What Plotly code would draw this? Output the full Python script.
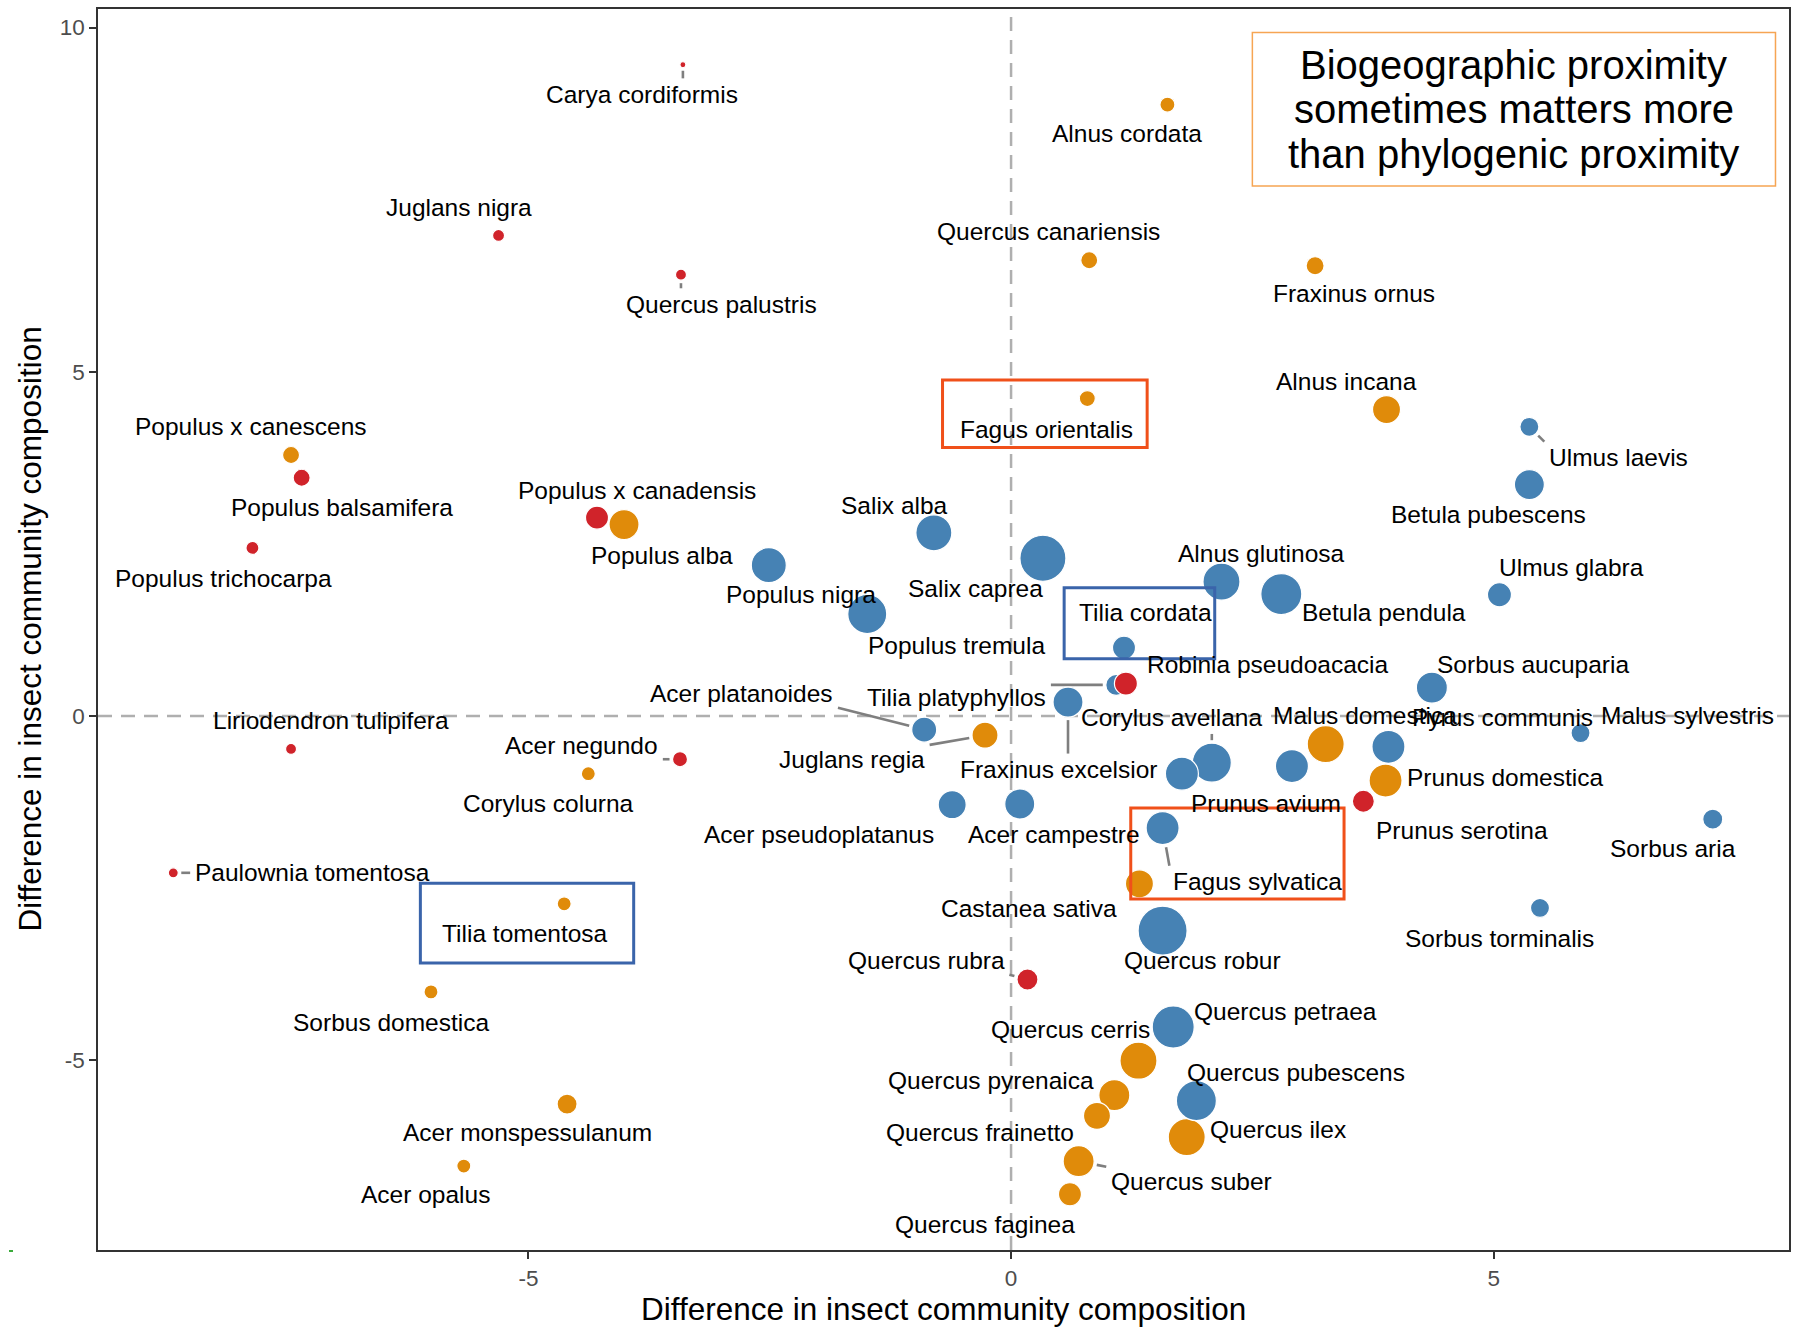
import plotly.graph_objects as go

# ---------------- data ----------------
species = [
    "Carya cordiformis", "Alnus cordata", "Juglans nigra", "Quercus canariensis",
    "Quercus palustris", "Fraxinus ornus", "Alnus incana", "Fagus orientalis",
    "Populus x canescens", "Ulmus laevis", "Populus balsamifera", "Populus x canadensis",
    "Salix alba", "Betula pubescens", "Populus alba", "Populus trichocarpa",
    "Alnus glutinosa", "Ulmus glabra", "Populus nigra", "Salix caprea",
    "Betula pendula", "Tilia cordata", "Populus tremula", "Tilia platyphyllos",
    "Robinia pseudoacacia", "Sorbus aucuparia", "Acer platanoides", "Liriodendron tulipifera",
    "Corylus avellana", "", "Prunus avium", "Malus domestica", "Pyrus communis",
    "Malus sylvestris", "Acer negundo", "Juglans regia", "Fraxinus excelsior",
    "Corylus colurna", "Prunus domestica", "Acer pseudoplatanus", "Acer campestre",
    "Prunus serotina", "Sorbus aria", "Paulownia tomentosa", "Fagus sylvatica",
    "Castanea sativa", "Tilia tomentosa", "Sorbus torminalis", "Quercus rubra",
    "Quercus robur", "Sorbus domestica", "Quercus petraea", "Quercus cerris",
    "Quercus pyrenaica", "Quercus ilex", "Quercus pubescens", "Acer monspessulanum",
    "Quercus frainetto", "Acer opalus", "Quercus suber", "Quercus faginea",
]

dim_x = [
    -3.40, 1.62, -5.31, 0.81,
    -3.42, 3.15, 3.89, 0.79,
    -7.46, 5.37, -7.35, -4.29,
    -0.80, 5.37, -4.01, -7.86,
    2.18, 5.06, -2.51, 0.33,
    2.80, 1.17, -1.49, 1.09,
    1.19, 4.36, -0.90, -7.46,
    2.08, 1.77, 2.91, 3.26, 3.91,
    5.90, -3.43, -0.27, 0.59,
    -4.38, 3.88, -0.61, 0.09,
    3.65, 7.27, -8.68, 1.57,
    1.33, -4.63, 5.48, 0.17,
    1.57, -6.01, 1.68, 1.32,
    1.07, 1.82, 1.92, -4.60,
    0.89, -5.67, 0.70, 0.61,
]

dim_y = [
    9.46, 8.88, 6.98, 6.62,
    6.41, 6.54, 4.45, 4.61,
    3.79, 4.20, 3.46, 2.88,
    2.66, 3.36, 2.78, 2.44,
    1.95, 1.76, 2.19, 2.29,
    1.77, 0.99, 1.48, 0.45,
    0.47, 0.41, -0.20, -0.48,
    -0.68, -0.84, -0.73, -0.41, -0.45,
    -0.25, -0.63, -0.28, 0.20,
    -0.84, -0.94, -1.29, -1.28,
    -1.24, -1.50, -2.28, -1.63,
    -2.44, -2.73, -2.79, -3.83,
    -3.12, -4.01, -4.52, -5.01,
    -5.51, -6.12, -5.59, -5.64,
    -5.81, -6.54, -6.47, -6.95,
]

# point size variable (mapped linearly to marker diameter)
size_value = [
    6, 15, 12, 17,
    11, 18, 28, 16,
    17, 19, 17, 23,
    36, 30, 30, 13,
    37, 24, 35, 46,
    41, 23, 39, 21,
    23, 31, 25, 11,
    39, 33, 33, 37, 33,
    19, 15, 26, 30,
    14, 33, 28, 30,
    22, 20, 10, 33,
    28, 14, 19, 21,
    49, 14, 42, 37,
    31, 37, 40, 20,
    27, 14, 31, 23,
]

N, E, X = "Native", "European non-native", "Exotic"
origin = [
    X, E, X, E,
    X, E, E, E,
    E, N, X, X,
    N, N, E, X,
    N, N, N, N,
    N, N, N, N,
    X, N, N, X,
    N, N, N, E, N,
    N, X, E, N,
    E, E, N, N,
    X, N, X, N,
    E, E, N, X,
    N, E, N, E,
    E, E, N, E,
    E, E, E, E,
]

# repelled label positions (data units)
label_x = [
    -3.82, 1.20, -5.72, 0.39,
    -3.00, 3.55, 3.48, 0.37,
    -7.87, 6.29, -6.93, -3.88,
    -1.21, 4.95, -3.62, -8.16,
    2.59, 5.81, -2.18, -0.37,
    3.86, 1.39, -0.57, -0.57,
    2.66, 5.41, -2.79, -7.05,
    1.66, None, 2.64, 3.67, 5.09,
    7.01, -4.45, -1.65, 0.49,
    -4.79, 5.12, -1.99, 0.44,
    4.67, 6.86, -7.24, 2.55,
    0.19, -5.04, 5.06, -0.88,
    1.98, -6.42, 2.84, 0.62,
    -0.21, 2.77, 2.95, -5.01,
    -0.32, -6.07, 1.87, -0.27,
]
label_y = [
    9.03, 8.46, 7.39, 7.04,
    5.98, 6.13, 4.86, 4.16,
    4.21, 3.76, 3.03, 3.28,
    3.06, 2.93, 2.33, 2.00,
    2.36, 2.16, 1.77, 1.85,
    1.50, 1.50, 1.02, 0.27,
    0.75, 0.75, 0.33, -0.07,
    -0.03, None, -1.28, 0.00, -0.03,
    0.00, -0.43, -0.63, -0.78,
    -1.27, -0.90, -1.72, -1.72,
    -1.67, -1.93, -2.28, -2.41,
    -2.80, -3.16, -3.23, -3.55,
    -3.55, -4.45, -4.30, -4.55,
    -5.30, -6.01, -5.18, -6.06,
    -6.05, -6.96, -6.76, -7.39,
]

highlight_names = ["Fagus orientalis", "Tilia cordata", "Fagus sylvatica", "Tilia tomentosa"]
highlight_x0 = [-0.71, 0.55, 1.24, -6.12]
highlight_x1 = [1.41, 2.11, 3.45, -3.91]
highlight_y0 = [3.90, 0.83, -2.66, -3.59]
highlight_y1 = [4.88, 1.86, -1.34, -2.43]
highlight_kind = ["Biogeography", "Phylogeny", "Biogeography", "Phylogeny"]

note_lines = ["Biogeographic proximity", "sometimes matters more", "than phylogenic proximity"]

x_ticks = [-5, 0, 5]
y_ticks = [-5, 0, 5, 10]
axis_title = "Difference in insect community composition"

# ---------------- styling / layout ----------------
W, H = 1796, 1329
ML, MR, MT, MB = 98, 7, 9, 79
XR = [-9.46, 8.06]
YR = [-7.76, 10.27]
PW, PH = W - ML - MR, H - MT - MB

colors = {N: "#4682B4", E: "#E08B0A", X: "#D0232A"}
box_colors = {"Biogeography": "#F0501A", "Phylogeny": "#3A64AA"}
FS = 24.5
FONT = "Liberation Sans, Arial, Helvetica, sans-serif"


def to_px(x, y):
    return (ML + (x - XR[0]) / (XR[1] - XR[0]) * PW,
            MT + (YR[1] - y) / (YR[1] - YR[0]) * PH)


def to_data(px, py):
    return (XR[0] + (px - ML) / PW * (XR[1] - XR[0]),
            YR[1] - (py - MT) / PH * (YR[1] - YR[0]))


CW = {'a': 556, 'b': 556, 'c': 500, 'd': 556, 'e': 556, 'f': 278, 'g': 556, 'h': 556,
      'i': 222, 'j': 222, 'k': 500, 'l': 222, 'm': 833, 'n': 556, 'o': 556, 'p': 556,
      'q': 556, 'r': 333, 's': 500, 't': 278, 'u': 556, 'v': 500, 'w': 722, 'x': 500,
      'y': 500, 'z': 500, ' ': 278, 'A': 667, 'B': 667, 'C': 722, 'F': 611, 'J': 500,
      'L': 556, 'M': 833, 'P': 667, 'Q': 778, 'R': 722, 'S': 667, 'T': 611, 'U': 722}


def text_w(s):
    return sum(CW.get(c, 600) for c in s) / 1000.0 * FS


fig = go.Figure()

# reference lines
fig.add_shape(type="line", x0=0, x1=0, y0=YR[0], y1=YR[1], xref="x", yref="y",
              line=dict(color="#AFAFAF", width=2.5, dash="14px,9px"), layer="below")
fig.add_shape(type="line", x0=XR[0], x1=XR[1], y0=0, y1=0, xref="x", yref="y",
              line=dict(color="#AFAFAF", width=2.5, dash="14px,9px"), layer="below")

# leader segments
seg_x, seg_y = [], []
for i, name in enumerate(species):
    if not name or label_x[i] is None:
        continue
    ppx, ppy = to_px(dim_x[i], dim_y[i])
    lpx, lpy = to_px(label_x[i], label_y[i])
    hw = text_w(name) / 2 + 3
    hh = 14
    bx = min(max(ppx, lpx - hw), lpx + hw)
    by = min(max(ppy, lpy - hh), lpy + hh)
    dx, dy = ppx - bx, ppy - by
    d = (dx * dx + dy * dy) ** 0.5
    r = size_value[i] / 2 + 3
    if d - r < 7:
        continue
    ex, ey = ppx - dx / d * r, ppy - dy / d * r
    sx, sy = bx + dx / d * 2, by + dy / d * 2
    a = to_data(sx, sy)
    b = to_data(ex, ey)
    seg_x += [a[0], b[0], None]
    seg_y += [a[1], b[1], None]

fig.add_trace(go.Scatter(x=seg_x, y=seg_y, mode="lines", hoverinfo="skip",
                         line=dict(color="#7F7F7F", width=2.6), showlegend=False))

# points
fig.add_trace(go.Scatter(
    x=dim_x, y=dim_y, mode="markers", text=species, showlegend=False,
    marker=dict(size=size_value, sizemode="diameter",
                color=[colors[g] for g in origin],
                line=dict(color="white", width=1.2), opacity=1),
))

annotations = []
for i, name in enumerate(species):
    if not name or label_x[i] is None:
        continue
    annotations.append(dict(x=label_x[i], y=label_y[i], xref="x", yref="y", text=name,
                            showarrow=False, xanchor="center", yanchor="middle",
                            font=dict(size=FS, color="black", family=FONT)))

# highlight boxes
for i in range(len(highlight_names)):
    fig.add_shape(type="rect", x0=highlight_x0[i], x1=highlight_x1[i],
                  y0=highlight_y0[i], y1=highlight_y1[i], xref="x", yref="y",
                  line=dict(color=box_colors[highlight_kind[i]], width=3), layer="above")

# note box
fig.add_shape(type="rect", x0=2.50, x1=7.92, y0=7.70, y1=9.93, xref="x", yref="y",
              line=dict(color="#F6A553", width=1.5), fillcolor="white", layer="above")
for j, (t, yy) in enumerate(zip(note_lines, [9.45, 8.81, 8.17])):
    annotations.append(dict(x=5.21, y=yy, xref="x", yref="y", text=t, showarrow=False,
                            xanchor="center", yanchor="middle",
                            font=dict(size=40, color="black", family=FONT)))

# axis titles
annotations.append(dict(x=0.5, y=0, xref="paper", yref="paper", text=axis_title,
                        showarrow=False, xanchor="center", yanchor="middle", yshift=-59,
                        font=dict(size=31.5, color="black", family=FONT)))
annotations.append(dict(x=0, y=0.5, xref="paper", yref="paper", text=axis_title,
                        showarrow=False, xanchor="center", yanchor="middle", xshift=-69,
                        textangle=-90, font=dict(size=31.5, color="black", family=FONT)))

# small green mark at lower-left
fig.add_shape(type="rect", xref="paper", yref="paper",
              x0=(9 - ML) / PW, x1=(13 - ML) / PW,
              y0=-(1252 - MT - PH) / PH, y1=-(1250 - MT - PH) / PH,
              line=dict(width=0), fillcolor="#3BAA3B")

axis_common = dict(showgrid=False, zeroline=False, showline=True, mirror=True,
                   linecolor="#333333", linewidth=1.6, ticks="outside", ticklen=7,
                   tickwidth=2, tickcolor="#333333",
                   tickfont=dict(size=22.5, color="#4D4D4D", family=FONT))

fig.update_layout(
    width=W, height=H,
    margin=dict(l=ML, r=MR, t=MT, b=MB, autoexpand=False),
    paper_bgcolor="white", plot_bgcolor="white",
    font=dict(family=FONT),
    xaxis=dict(range=XR, tickvals=x_ticks, ticktext=[str(v) for v in x_ticks], **axis_common),
    yaxis=dict(range=YR, tickvals=y_ticks, ticktext=[str(v) for v in y_ticks], **axis_common),
    annotations=annotations,
    showlegend=False,
)

fig.write_html("out.html",
               config={"displayModeBar": False},
               post_script="document.body.style.margin='0';document.body.style.padding='0';"
                           "document.body.style.overflow='hidden';")
